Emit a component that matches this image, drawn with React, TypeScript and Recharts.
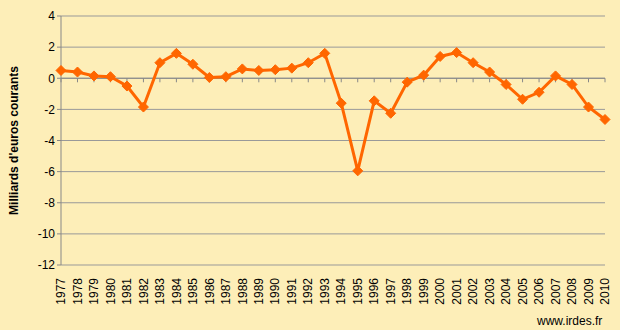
import { LineChart, Line, XAxis, YAxis, CartesianGrid, ReferenceLine } from 'recharts';

const years = [
  '1977', '1978', '1979', '1980', '1981', '1982', '1983', '1984', '1985', '1986', '1987',
  '1988', '1989', '1990', '1991', '1992', '1993', '1994', '1995', '1996', '1997', '1998',
  '1999', '2000', '2001', '2002', '2003', '2004', '2005', '2006', '2007', '2008', '2009', '2010',
];
const values = [
  0.5, 0.4, 0.15, 0.1, -0.5, -1.85, 1.0, 1.6, 0.9, 0.05, 0.1,
  0.6, 0.5, 0.55, 0.65, 1.0, 1.6, -1.6, -5.95, -1.45, -2.25, -0.25,
  0.2, 1.4, 1.65, 1.0, 0.4, -0.4, -1.35, -0.9, 0.15, -0.4, -1.85, -2.65,
];
const yTicks = [-12, -10, -8, -6, -4, -2, 0, 2, 4];
const tickLen = 0.26;

const data = years.map((year, i) => ({ year, value: values[i] }));

const FONT = '"Liberation Sans", Arial, sans-serif';

function Diamond(props: any) {
  const { cx, cy } = props;
  if (cx == null || cy == null) return null;
  const r = 5;
  return (
    <polygon
      points={`${cx},${cy - r} ${cx + r},${cy} ${cx},${cy + r} ${cx - r},${cy}`}
      fill="#FF6600"
      stroke="#FF6600"
    />
  );
}

function YearTick(props: any) {
  const { x, y, payload } = props;
  return (
    <text
      x={x}
      y={y + 13}
      dy="0.35em"
      transform={`rotate(-90, ${x}, ${y + 13})`}
      textAnchor="end"
      fontSize={12}
      fontFamily={FONT}
      fill="#000"
    >
      {payload.value}
    </text>
  );
}

export default function App() {
  return (
    <div style={{ position: 'absolute', left: 0, top: 0, width: 620, height: 330, background: '#FDEEB8' }}>
      <LineChart width={620} height={330} data={data} margin={{ top: 16, right: 15, left: 0, bottom: 0 }}>
        <CartesianGrid horizontal vertical={false} stroke="#999999" strokeWidth={1} />
        <XAxis
          dataKey="year"
          interval={0}
          axisLine={false}
          tickLine={false}
          tickSize={0}
          tickMargin={0}
          height={65}
          tick={<YearTick />}
        />
        <YAxis
          domain={[-12, 4]}
          ticks={yTicks}
          interval={0}
          width={61}
          axisLine={{ stroke: '#888888' }}
          tickLine={{ stroke: '#888888' }}
          tickSize={4}
          tick={{ fontSize: 12, fill: '#000', fontFamily: FONT }}
          label={{
            value: "Milliards d'euros  courants",
            angle: -90,
            position: 'insideLeft',
            offset: 14,
            style: { textAnchor: 'middle', fontWeight: 'bold', fontSize: 12, fill: '#000', fontFamily: FONT },
          }}
        />
        <ReferenceLine y={0} stroke="#888888" />
        {years.map((yr) => (
          <ReferenceLine
            key={yr}
            segment={[{ x: yr, y: 0 }, { x: yr, y: -tickLen }]}
            stroke="#888888"
          />
        ))}
        <Line
          type="linear"
          dataKey="value"
          stroke="#FF6600"
          strokeWidth={3}
          dot={<Diamond />}
          activeDot={false}
          isAnimationActive={false}
        />
      </LineChart>
      <div
        style={{
          position: 'absolute',
          left: 537,
          top: 314,
          fontFamily: FONT,
          fontSize: 12,
          color: '#000',
        }}
      >
        www.irdes.fr
      </div>
    </div>
  );
}
